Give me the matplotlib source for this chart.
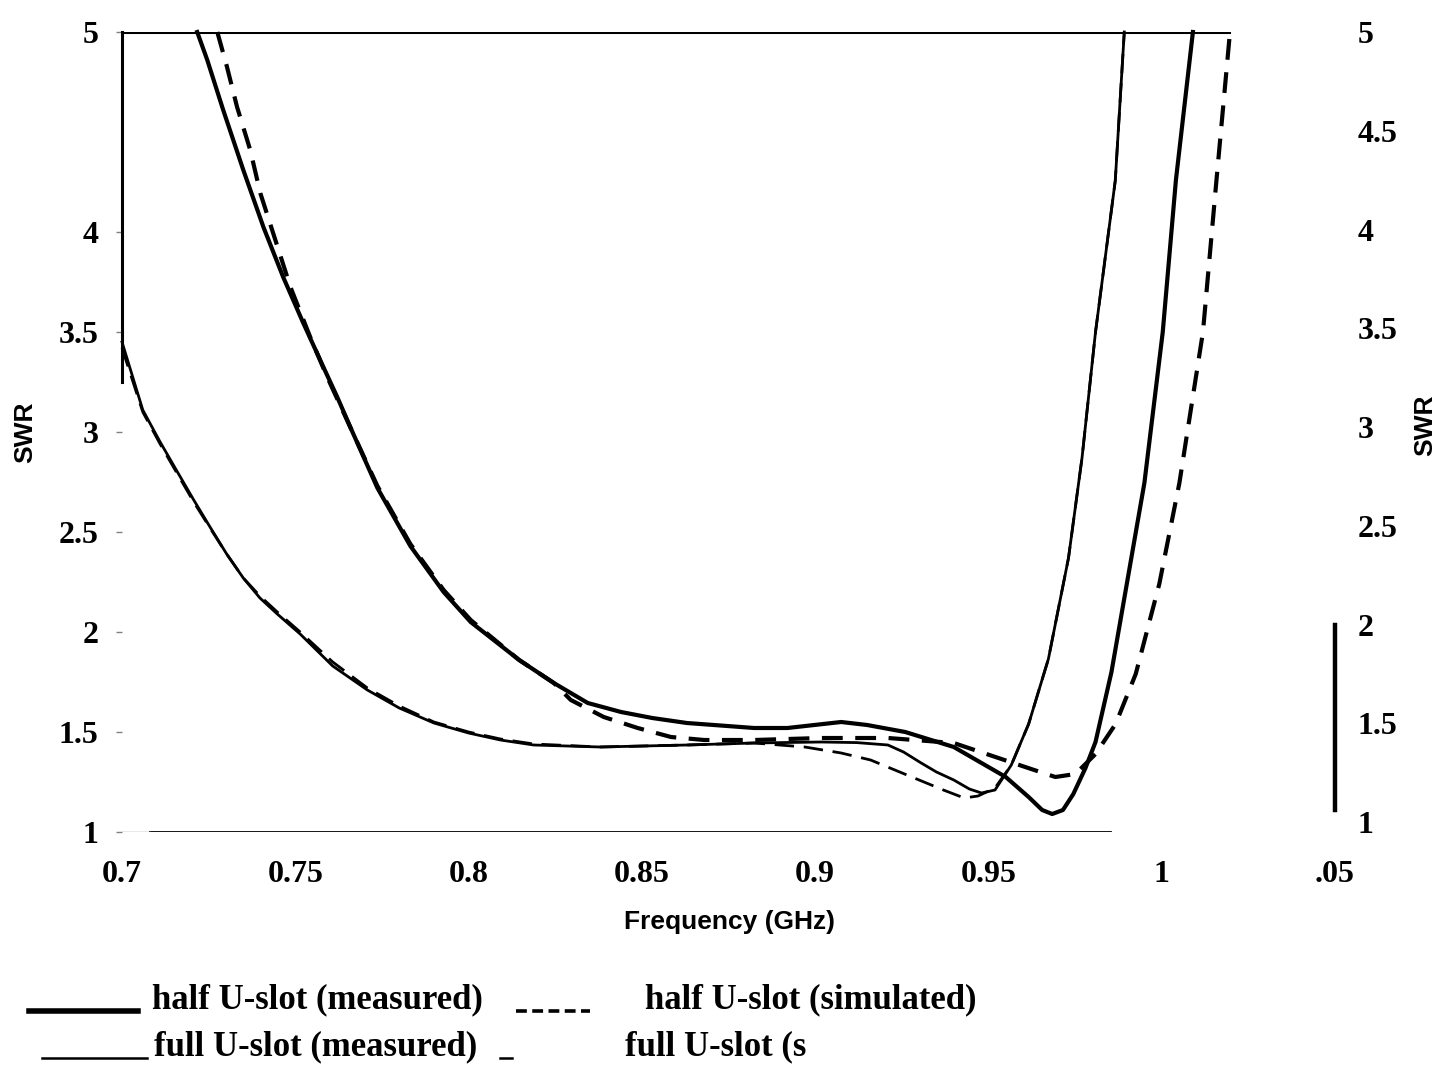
import matplotlib
matplotlib.use("Agg")
import matplotlib.pyplot as plt
from matplotlib.lines import Line2D

# half U-slot (measured) - thick solid
half_meas_f = [0.7217, 0.7246, 0.7292, 0.735, 0.7408, 0.7465, 0.7523, 0.7581, 0.7621, 0.7665,
               0.7737, 0.7832, 0.7928, 0.8006, 0.8146, 0.8246, 0.8344, 0.844, 0.853, 0.863,
               0.8824, 0.892, 0.9075, 0.915, 0.926, 0.940, 0.955, 0.9616, 0.9655, 0.9684,
               0.9715, 0.9745, 0.978, 0.9809, 0.9855, 0.995, 1.0003, 1.0041, 1.009]
half_meas_swr = [5.0, 4.86, 4.61, 4.31, 4.025, 3.775, 3.545, 3.325, 3.175, 3.0,
                 2.72, 2.43, 2.20, 2.05, 1.86, 1.745, 1.645, 1.60, 1.57, 1.545,
                 1.52, 1.52, 1.55, 1.535, 1.50, 1.425, 1.275, 1.175, 1.11, 1.09,
                 1.11, 1.19, 1.32, 1.45, 1.80, 2.745, 3.50, 4.26, 5.0]

# half U-slot (simulated) - thick dashed
half_sim_f = [0.7275, 0.7303, 0.7332, 0.737, 0.7399, 0.7436, 0.7486, 0.7543, 0.7592, 0.7665,
              0.7737, 0.7832, 0.7928, 0.8006, 0.8146, 0.8246, 0.8295, 0.839, 0.8488, 0.8584,
              0.868, 0.8824, 0.9017, 0.921, 0.940, 0.9546, 0.9606, 0.9693, 0.9751, 0.9809,
              0.9867, 0.9925, 0.9993, 1.0051, 1.0119, 1.0158, 1.0197]
half_sim_swr = [5.0, 4.825, 4.625, 4.41, 4.195, 3.995, 3.725, 3.475, 3.275, 3.0,
                2.73, 2.44, 2.21, 2.06, 1.86, 1.745, 1.66, 1.575, 1.52, 1.475,
                1.46, 1.46, 1.47, 1.47, 1.445, 1.36, 1.325, 1.275, 1.29, 1.39,
                1.54, 1.79, 2.24, 2.745, 3.50, 4.26, 5.0]

# full U-slot (measured) - thin solid
full_meas_f = [0.7, 0.706, 0.711, 0.716, 0.7207, 0.7254, 0.7302, 0.735, 0.7398, 0.7448,
               0.7514, 0.7608, 0.7708, 0.780, 0.790, 0.8, 0.8092, 0.8188, 0.838, 0.863,
               0.8824, 0.9017, 0.912, 0.921, 0.9255, 0.9306, 0.935, 0.940, 0.9445, 0.948,
               0.9519, 0.9566, 0.9616, 0.9673, 0.9731, 0.977, 0.9809, 0.9866, 0.9892]
full_meas_swr = [3.45, 3.11, 2.95, 2.80, 2.66, 2.525, 2.39, 2.27, 2.17, 2.09,
                 1.99, 1.83, 1.71, 1.62, 1.545, 1.495, 1.46, 1.435, 1.425, 1.435,
                 1.445, 1.45, 1.447, 1.435, 1.40, 1.345, 1.30, 1.26, 1.215, 1.195,
                 1.21, 1.335, 1.54, 1.865, 2.37, 2.87, 3.50, 4.257, 5.0]

# full U-slot (simulated) - thin dashed
full_sim_f = [0.7, 0.706, 0.711, 0.716, 0.7207, 0.7254, 0.7302, 0.735, 0.7398, 0.7448,
              0.7514, 0.7608, 0.7708, 0.780, 0.790, 0.8, 0.8092, 0.8188, 0.838, 0.863,
              0.8824, 0.897, 0.9075, 0.916, 0.923, 0.930, 0.937, 0.943, 0.947, 0.9519,
              0.9566, 0.9616, 0.9673, 0.9731, 0.977, 0.9809, 0.9866, 0.9892]
full_sim_swr = [3.42, 3.10, 2.94, 2.79, 2.65, 2.52, 2.39, 2.27, 2.18, 2.10,
                2.0, 1.85, 1.72, 1.63, 1.55, 1.50, 1.465, 1.44, 1.425, 1.435,
                1.445, 1.425, 1.395, 1.36, 1.31, 1.26, 1.21, 1.17, 1.18, 1.22,
                1.335, 1.54, 1.865, 2.37, 2.87, 3.50, 4.257, 5.0]

x_ticks = [0.7, 0.75, 0.8, 0.85, 0.9, 0.95, 1.0, 1.05]
x_labels = ["0.7", "0.75", "0.8", "0.85", "0.9", "0.95", "1", ".05"]
left_ticks = [1, 1.5, 2, 2.5, 3, 3.5, 4, 5]
left_labels = ["1", "1.5", "2", "2.5", "3", "3.5", "4", "5"]
right_ticks = [1, 1.5, 2, 2.5, 3, 3.5, 4, 4.5, 5]
right_labels = ["1", "1.5", "2", "2.5", "3", "3.5", "4", "4.5", "5"]

W, H = 1439, 1070
fig = plt.figure(figsize=(W / 100, H / 100), dpi=100)
ax = fig.add_axes([122 / W, 238 / H, 1213 / W, 800 / H])
ax.set_xlim(0.7, 1.05)
ax.set_ylim(1, 5)

ax.plot(full_meas_f, full_meas_swr, color="k", lw=2.0, clip_on=False)
ax.plot(full_sim_f, full_sim_swr, color="k", lw=2.0, dashes=(7, 3.5), clip_on=False)
ax.plot(half_meas_f, half_meas_swr, color="k", lw=3.0, clip_on=False)
ax.plot(half_sim_f, half_sim_swr, color="k", lw=3.0, dashes=(5, 3), clip_on=False)

# frame pieces as in the scan
ax.axhline(5, xmin=0, xmax=0.913, color="k", lw=2.2)
ax.axhline(1, xmin=0.023, xmax=0.8145, color="k", lw=2.0)
ax.axhline(1, xmin=-0.004, xmax=0.023, color="0.55", lw=1.0)
for s in ["top", "bottom", "right"]:
    ax.spines[s].set_visible(False)
ax.spines["left"].set_bounds(3.25, 5)
ax.spines["left"].set_linewidth(2.2)

tick_font = dict(family="Liberation Serif", weight="bold", size=23)
ax.set_xticks(x_ticks)
ax.set_xticklabels(x_labels, **tick_font)
ax.tick_params(axis="x", length=0, pad=20)
ax.set_yticks(left_ticks)
ax.set_yticklabels(left_labels, **tick_font)
ax.tick_params(axis="y", length=4, width=1, color="0.5", pad=13)

# right axis, labels sit ~10px higher in the scan
ax2 = ax.twinx()
ax2.set_ylim(0.95, 4.95)
for s in ["top", "bottom", "left"]:
    ax2.spines[s].set_visible(False)
ax2.spines["right"].set_bounds(1.06, 2.0)
ax2.spines["right"].set_linewidth(3.2)
ax2.set_yticks(right_ticks)
ax2.set_yticklabels(right_labels, **tick_font)
ax2.tick_params(axis="y", length=0, pad=16)

lab_font = dict(family="Liberation Sans", weight="bold", size=19)
fig.text(730 / W, 1 - 922 / H, "Frequency (GHz)", ha="center", va="center", **lab_font)
fig.text(25 / W, 1 - 432 / H, "SWR", rotation=90, ha="center", va="center", **lab_font)
fig.text(1425 / W, 1 - 425 / H, "SWR", rotation=90, ha="center", va="center", **lab_font)

# legend, laid out like the scan
leg_font = dict(family="Liberation Serif", weight="bold", size=25)
y1, y2 = 1 - 1000 / H, 1 - 1047 / H
fig.add_artist(Line2D([29 / W, 138 / W], [y1 - 0.01, y1 - 0.01], color="k", lw=4))
fig.text(152 / W, y1, "half U-slot (measured)", va="center", **leg_font)
fig.add_artist(Line2D([516 / W, 590 / W], [y1 - 0.01, y1 - 0.01], color="k", lw=2.6, dashes=(3, 1.5)))
fig.text(645 / W, y1, "half U-slot (simulated)", va="center", **leg_font)
fig.add_artist(Line2D([42 / W, 147 / W], [y2 - 0.01, y2 - 0.01], color="k", lw=1.8))
fig.text(154 / W, y2, "full U-slot (measured)", va="center", **leg_font)
fig.add_artist(Line2D([500 / W, 512 / W], [y2 - 0.01, y2 - 0.01], color="k", lw=1.8))
fig.text(625 / W, y2, "full U-slot (s", va="center", **leg_font)

fig.savefig("out.png", dpi=100)
